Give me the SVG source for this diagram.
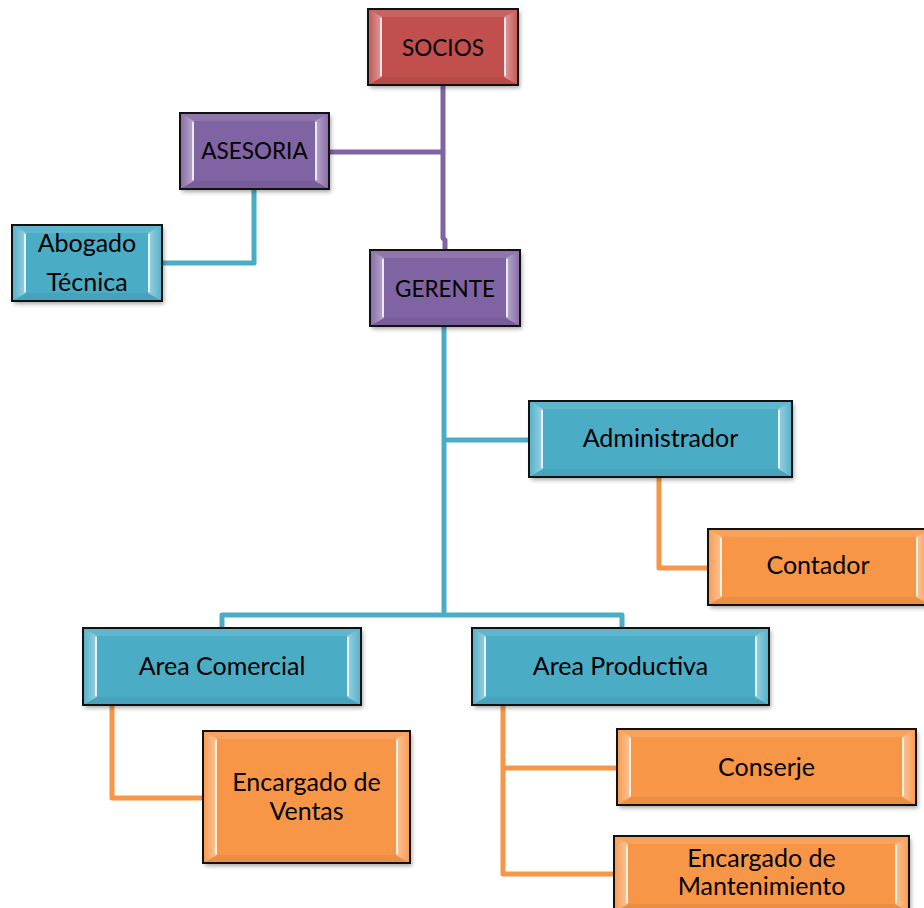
<svg xmlns="http://www.w3.org/2000/svg" width="924" height="908" viewBox="0 0 924 908">
<defs>
<filter id="sh" x="-10%" y="-10%" width="120%" height="130%">
<feDropShadow dx="2" dy="3" stdDeviation="2" flood-color="#000" flood-opacity="0.35"/>
</filter>
<linearGradient id="gl" x1="0" y1="0" x2="1" y2="0">
<stop offset="0" stop-color="#fff" stop-opacity="0.05"/>
<stop offset="1" stop-color="#fff" stop-opacity="0.45"/>
</linearGradient>
<linearGradient id="gr" x1="1" y1="0" x2="0" y2="0">
<stop offset="0" stop-color="#fff" stop-opacity="0.05"/>
<stop offset="1" stop-color="#fff" stop-opacity="0.45"/>
</linearGradient>
</defs>
<style>
.red{fill:#C0504D}
.pur{fill:#8064A2}
.blu{fill:#4BACC6}
.org{fill:#F79646}
.bl{fill:url(#gl)}
.br{fill:url(#gr)}
.bt{fill:#fff;fill-opacity:0.12}
.bb{fill:#000;fill-opacity:0.05}
.hl{fill:none;stroke:#fff;stroke-opacity:0.75;stroke-width:2}
.edge{fill:none;stroke:#111;stroke-width:2}
.t{font-family:Lato,"Liberation Sans",sans-serif;font-size:25px;fill:#000;text-anchor:middle}
.u{font-size:22.5px}
.c{fill:none;stroke-width:5;stroke-linejoin:round}
.cp{stroke:#8064A2}
.cb{stroke:#4BACC6}
.co{stroke:#F79646}
</style>
<rect width="924" height="908" fill="#fff"/>
<g id="connectors">
<path class="c cp" d="M443,85 V238 L445,240 V250"/>
<path class="c cp" d="M329,152 H443"/>
<path class="c cb" d="M254,189 V263 H162"/>
<path class="c cb" d="M444,326 V615"/>
<path class="c cb" d="M444,440 H529"/>
<path class="c cb" d="M222,628 V615 H622 V628"/>
<path class="c co" d="M659,477 V568 H708"/>
<path class="c co" d="M112,705 V798 H203"/>
<path class="c co" d="M503,705 V874 H614"/>
<path class="c co" d="M503,768 H617"/>
</g>
<g id="socios" transform="translate(368,9)">
<rect class="red" width="150" height="76" filter="url(#sh)"/>
<polygon class="bl" points="0,0 14,8 14,68 0,76"/>
<polygon class="br" points="150,0 136,8 136,68 150,76"/>
<polygon class="bt" points="0,0 150,0 136,8 14,8"/>
<polygon class="bb" points="0,76 150,76 136,68 14,68"/>
<path class="hl" d="M13,9V67M137,9V67"/>
<rect class="edge" width="150" height="76"/>
<text class="t u" x="75" y="47">SOCIOS</text>
</g>
<g id="asesoria" transform="translate(180,113)">
<rect class="pur" width="149" height="76" filter="url(#sh)"/>
<polygon class="bl" points="0,0 14,8 14,68 0,76"/>
<polygon class="br" points="149,0 135,8 135,68 149,76"/>
<polygon class="bt" points="0,0 149,0 135,8 14,8"/>
<polygon class="bb" points="0,76 149,76 135,68 14,68"/>
<path class="hl" d="M13,9V67M136,9V67"/>
<rect class="edge" width="149" height="76"/>
<text class="t u" x="74.5" y="46">ASESORIA</text>
</g>
<g id="abogado" transform="translate(12,225)">
<rect class="blu" width="150" height="76" filter="url(#sh)"/>
<polygon class="bl" points="0,0 14,8 14,68 0,76"/>
<polygon class="br" points="150,0 136,8 136,68 150,76"/>
<polygon class="bt" points="0,0 150,0 136,8 14,8"/>
<polygon class="bb" points="0,76 150,76 136,68 14,68"/>
<path class="hl" d="M13,9V67M137,9V67"/>
<rect class="edge" width="150" height="76"/>
<text class="t" x="75" y="27">Abogado</text>
<text class="t" x="75" y="66">Técnica</text>
</g>
<g id="gerente" transform="translate(370,250)">
<rect class="pur" width="150" height="76" filter="url(#sh)"/>
<polygon class="bl" points="0,0 14,8 14,68 0,76"/>
<polygon class="br" points="150,0 136,8 136,68 150,76"/>
<polygon class="bt" points="0,0 150,0 136,8 14,8"/>
<polygon class="bb" points="0,76 150,76 136,68 14,68"/>
<path class="hl" d="M13,9V67M137,9V67"/>
<rect class="edge" width="150" height="76"/>
<text class="t u" x="75" y="47">GERENTE</text>
</g>
<g id="administrador" transform="translate(529,401)">
<rect class="blu" width="263" height="76" filter="url(#sh)"/>
<polygon class="bl" points="0,0 14,8 14,68 0,76"/>
<polygon class="br" points="263,0 249,8 249,68 263,76"/>
<polygon class="bt" points="0,0 263,0 249,8 14,8"/>
<polygon class="bb" points="0,76 263,76 249,68 14,68"/>
<path class="hl" d="M13,9V67M250,9V67"/>
<rect class="edge" width="263" height="76"/>
<text class="t" x="131.5" y="46">Administrador</text>
</g>
<g id="contador" transform="translate(708,529)">
<rect class="org" width="222" height="76" filter="url(#sh)"/>
<polygon class="bl" points="0,0 14,8 14,68 0,76"/>
<polygon class="br" points="222,0 208,8 208,68 222,76"/>
<polygon class="bt" points="0,0 222,0 208,8 14,8"/>
<polygon class="bb" points="0,76 222,76 208,68 14,68"/>
<path class="hl" d="M13,9V67M209,9V67"/>
<rect class="edge" width="222" height="76"/>
<text class="t" x="110" y="45">Contador</text>
</g>
<g id="area-comercial" transform="translate(83,628)">
<rect class="blu" width="278" height="77" filter="url(#sh)"/>
<polygon class="bl" points="0,0 14,8 14,69 0,77"/>
<polygon class="br" points="278,0 264,8 264,69 278,77"/>
<polygon class="bt" points="0,0 278,0 264,8 14,8"/>
<polygon class="bb" points="0,77 278,77 264,69 14,69"/>
<path class="hl" d="M13,9V68M265,9V68"/>
<rect class="edge" width="278" height="77"/>
<text class="t" x="139" y="47">Area Comercial</text>
</g>
<g id="area-productiva" transform="translate(472,628)">
<rect class="blu" width="297" height="77" filter="url(#sh)"/>
<polygon class="bl" points="0,0 14,8 14,69 0,77"/>
<polygon class="br" points="297,0 283,8 283,69 297,77"/>
<polygon class="bt" points="0,0 297,0 283,8 14,8"/>
<polygon class="bb" points="0,77 297,77 283,69 14,69"/>
<path class="hl" d="M13,9V68M284,9V68"/>
<rect class="edge" width="297" height="77"/>
<text class="t" x="148.5" y="47">Area Productiva</text>
</g>
<g id="encargado-ventas" transform="translate(203,731)">
<rect class="org" width="207" height="132" filter="url(#sh)"/>
<polygon class="bl" points="0,0 14,8 14,124 0,132"/>
<polygon class="br" points="207,0 193,8 193,124 207,132"/>
<polygon class="bt" points="0,0 207,0 193,8 14,8"/>
<polygon class="bb" points="0,132 207,132 193,124 14,124"/>
<path class="hl" d="M13,9V123M194,9V123"/>
<rect class="edge" width="207" height="132"/>
<text class="t" x="103.5" y="60">Encargado de</text>
<text class="t" x="103.5" y="89">Ventas</text>
</g>
<g id="conserje" transform="translate(617,729)">
<rect class="org" width="299" height="76" filter="url(#sh)"/>
<polygon class="bl" points="0,0 14,8 14,68 0,76"/>
<polygon class="br" points="299,0 285,8 285,68 299,76"/>
<polygon class="bt" points="0,0 299,0 285,8 14,8"/>
<polygon class="bb" points="0,76 299,76 285,68 14,68"/>
<path class="hl" d="M13,9V67M286,9V67"/>
<rect class="edge" width="299" height="76"/>
<text class="t" x="149.5" y="47">Conserje</text>
</g>
<g id="encargado-mantenimiento" transform="translate(614,836)">
<rect class="org" width="295" height="76" filter="url(#sh)"/>
<polygon class="bl" points="0,0 14,8 14,68 0,76"/>
<polygon class="br" points="295,0 281,8 281,68 295,76"/>
<polygon class="bt" points="0,0 295,0 281,8 14,8"/>
<polygon class="bb" points="0,76 295,76 281,68 14,68"/>
<path class="hl" d="M13,9V67M282,9V67"/>
<rect class="edge" width="295" height="76"/>
<text class="t" x="147.5" y="31">Encargado de</text>
<text class="t" x="147.5" y="59">Mantenimiento</text>
</g>
</svg>
